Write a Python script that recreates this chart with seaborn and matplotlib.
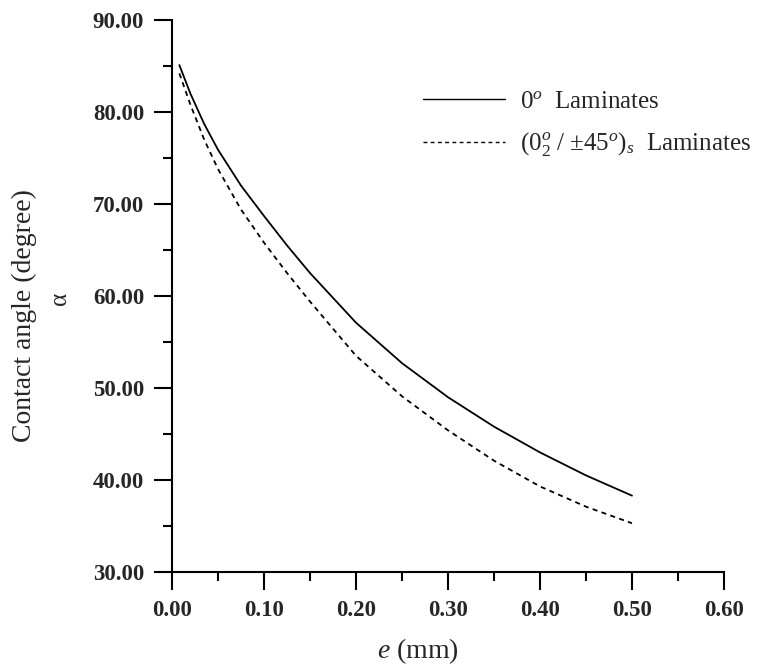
import matplotlib
matplotlib.use("Agg")
import matplotlib.pyplot as plt
from matplotlib.ticker import MultipleLocator, FormatStrFormatter
import pandas as pd
import seaborn as sns

# Plate thickness e (mm)
thickness = [0.008, 0.02, 0.035, 0.05, 0.075, 0.10, 0.125, 0.15, 0.20, 0.25, 0.30, 0.35, 0.40, 0.45, 0.50]

# Contact angle alpha (degree) for each laminate lay-up
alpha_0deg = [85.1, 82.0, 78.7, 75.9, 72.0, 68.7, 65.5, 62.5, 57.1, 52.7, 49.0, 45.8, 43.0, 40.5, 38.3]
alpha_quasi = [84.2, 80.8, 77.0, 73.8, 69.4, 65.8, 62.5, 59.4, 53.5, 49.1, 45.4, 42.1, 39.3, 37.1, 35.3]

series_names = [r"$0^{o}$  Laminates", r"$(0_2^{o}\ /\ {\pm}45^{o})_s$  Laminates"]

df = pd.concat([
    pd.DataFrame({"e": thickness, "alpha": alpha_0deg, "laminate": series_names[0]}),
    pd.DataFrame({"e": thickness, "alpha": alpha_quasi, "laminate": series_names[1]}),
])

sns.set_style("ticks")
plt.rcParams["font.family"] = ["Liberation Serif", "DejaVu Serif"]
plt.rcParams["mathtext.fontset"] = "custom"
plt.rcParams["mathtext.rm"] = "Liberation Serif"
plt.rcParams["mathtext.it"] = "Liberation Serif:italic"
plt.rcParams["mathtext.bf"] = "Liberation Serif:bold"

fig = plt.figure(figsize=(7.6, 6.68), dpi=100)
ax = fig.add_axes([172 / 760, 1 - 572 / 668, 552 / 760, 552 / 668])

sns.lineplot(
    data=df, x="e", y="alpha", style="laminate", style_order=series_names,
    dashes={series_names[0]: "", series_names[1]: (2.8, 2.4)},
    color="black", linewidth=1.3, ax=ax, legend=True,
)

ax.set_xlim(0, 0.6)
ax.set_ylim(30, 90)
ax.xaxis.set_major_locator(MultipleLocator(0.1))
ax.xaxis.set_minor_locator(MultipleLocator(0.05))
ax.yaxis.set_major_locator(MultipleLocator(10))
ax.yaxis.set_minor_locator(MultipleLocator(5))
ax.xaxis.set_major_formatter(FormatStrFormatter("%.2f"))
ax.yaxis.set_major_formatter(FormatStrFormatter("%.2f"))

for side in ("top", "right"):
    ax.spines[side].set_visible(False)
for side in ("left", "bottom"):
    ax.spines[side].set_linewidth(1.5)
    ax.spines[side].set_color("black")

ax.tick_params(which="major", direction="out", length=13, width=1.5, color="black",
               labelsize=16.5, pad=7)
ax.tick_params(which="minor", direction="out", length=6.5, width=1.5, color="black")
for lbl in ax.get_xticklabels() + ax.get_yticklabels():
    lbl.set_fontweight("bold")

ax.set_xlabel("")
ax.set_ylabel("")
fig.text(24 / 760, 1 - 316 / 668, "Contact angle (degree)", rotation=90,
         ha="center", va="center", fontsize=20)
fig.text(60 / 760, 1 - 298 / 668, "α", rotation=90,
         ha="center", va="center", fontsize=18)
fig.text(418 / 760, 1 - 651 / 668, r"$e$ (mm)", ha="center", va="center", fontsize=20)

leg = ax.legend(
    loc="upper left", bbox_to_anchor=(410 / 760, 1 - 78 / 668),
    bbox_transform=fig.transFigure, frameon=False, fontsize=18,
    handlelength=3.3, handletextpad=0.6, labelspacing=0.7, borderpad=0,
)
for line in leg.get_lines():
    line.set_linewidth(1.0)

fig.savefig("out.png", dpi=100)
